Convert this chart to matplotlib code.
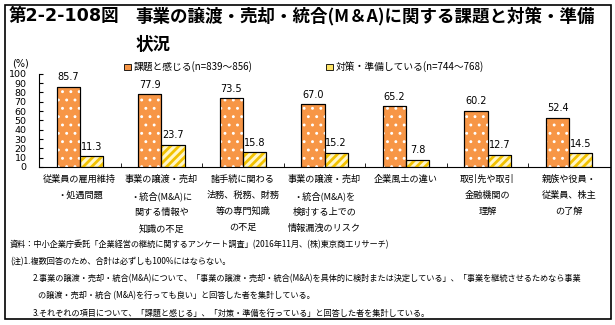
import numpy as np
import matplotlib
matplotlib.use("Agg")
import matplotlib.pyplot as plt
from matplotlib.patches import Rectangle, Patch

plt.rcParams['font.family'] = ['Noto Sans CJK JP', 'DejaVu Sans']

# データ
categories = [
    "従業員の雇用維持\n・処遇問題",
    "事業の譲渡・売却\n・統合(M&A)に\n関する情報や\n知識の不足",
    "諸手続に関わる\n法務、税務、財務\n等の専門知識\nの不足",
    "事業の譲渡・売却\n・統合(M&A)を\n検討する上での\n情報漏洩のリスク",
    "企業風土の違い",
    "取引先や取引\n金融機関の\n理解",
    "親族や役員・\n従業員、株主\nの了解",
]
kadai = [85.7, 77.9, 73.5, 67.0, 65.2, 60.2, 52.4]
taisaku = [11.3, 23.7, 15.8, 15.2, 7.8, 12.7, 14.5]
label_kadai = "課題と感じる(n=839～856)"
label_taisaku = "対策・準備している(n=744～768)"
yticks = np.arange(0, 101, 10)

notes = [
    "資料：中小企業庁委託「企業経営の継続に関するアンケート調査」(2016年11月、(株)東京商工リサーチ)",
    "(注)1.複数回答のため、合計は必ずしも100%にはならない。",
    "2.事業の譲渡・売却・統合(M&A)について、「事業の譲渡・売却・統合(M&A)を具体的に検討または決定している」、「事業を継続させるためなら事業",
    "の譲渡・売却・統合 (M&A)を行っても良い」と回答した者を集計している。",
    "3.それぞれの項目について、「課題と感じる」、「対策・準備を行っている」と回答した者を集計している。",
]
note_x = [10, 10, 33, 38, 33]

orange = '#F79646'
yellow = '#F2C200'

fig = plt.figure(figsize=(6.15, 3.25), dpi=100)

# 外枠
fig.patches.append(Rectangle((5/615, 6/325), 606/615, 314/325, transform=fig.transFigure,
                             fill=False, edgecolor='black', linewidth=1.2))

fig.text(9/615, 1-16/325, "第2-2-108図", fontsize=12.6, fontweight='bold', va='center',
         family=['DejaVu Sans', 'Noto Sans CJK JP'])
fig.text(135/615, 1-16/325, "事業の譲渡・売却・統合(M＆A)に関する課題と対策・準備",
         fontsize=12.6, fontweight='bold', va='center')
fig.text(135/615, 1-45/325, "状況", fontsize=12.6, fontweight='bold', va='center')

ax = fig.add_axes([39/615, 1-167/325, 571/615, 93.3/325])
x = np.arange(len(categories))
w = 0.285

plt.rcParams['hatch.linewidth'] = 0.9
ax.bar(x - w/2, kadai, w, color=orange, edgecolor='black', linewidth=0.8, zorder=2)
ax.bar(x - w/2, kadai, w, facecolor='none', edgecolor='white', hatch='..', linewidth=0, zorder=3)
ax.bar(x - w/2, kadai, w, facecolor='none', edgecolor='black', linewidth=0.8, zorder=4)
plt.rcParams['hatch.linewidth'] = 2.0
ax.bar(x + w/2, taisaku, w, color='#FFF6C8', edgecolor='black', linewidth=0.8, zorder=2)
ax.bar(x + w/2, taisaku, w, facecolor='none', edgecolor=yellow, hatch='////', linewidth=0, zorder=3)
ax.bar(x + w/2, taisaku, w, facecolor='none', edgecolor='black', linewidth=0.8, zorder=4)

for i in range(len(categories)):
    ax.text(x[i] - w/2, kadai[i] + 5, f"{kadai[i]:.1f}", ha='center', va='bottom',
            fontsize=7, family='DejaVu Sans')
    ax.text(x[i] + w/2, taisaku[i] + 5, f"{taisaku[i]:.1f}", ha='center', va='bottom',
            fontsize=7, family='DejaVu Sans')

ax.set_xlim(-0.5, len(categories) - 0.5)
ax.set_ylim(0, 100)
ax.set_yticks(yticks)
ax.set_yticklabels([str(v) for v in yticks], fontsize=6.8, family='DejaVu Sans')
ax.tick_params(axis='y', direction='in', length=3, pad=9)
ax.set_xticks(x[:-1] + 0.5, minor=True)
ax.set_xticks([])
ax.tick_params(axis='x', which='minor', direction='in', length=3)
for s in ['top', 'right']:
    ax.spines[s].set_visible(False)

for i, c in enumerate(categories):
    ax.text(x[i], -8, c, ha='center', va='top', fontsize=6.6, linespacing=2.0)

fig.text(12/615, 1-63/325, "(%)", fontsize=7, family='DejaVu Sans', va='center')

handles = [Patch(facecolor=orange, edgecolor='black', linewidth=0.6),
           Patch(facecolor='#FFE566', edgecolor='black', linewidth=0.6)]
fig.legend(handles, [label_kadai, label_taisaku], loc='center', ncol=2,
           bbox_to_anchor=(304/615, 1-67/325), frameon=False, fontsize=7,
           handlelength=0.7, handleheight=0.7, handletextpad=0.3, columnspacing=7.5)

for i, n in enumerate(notes):
    fig.text(note_x[i]/615, 1-(245 + i*17)/325, n, fontsize=5.9, va='center')

fig.savefig("out.png", dpi=100)
